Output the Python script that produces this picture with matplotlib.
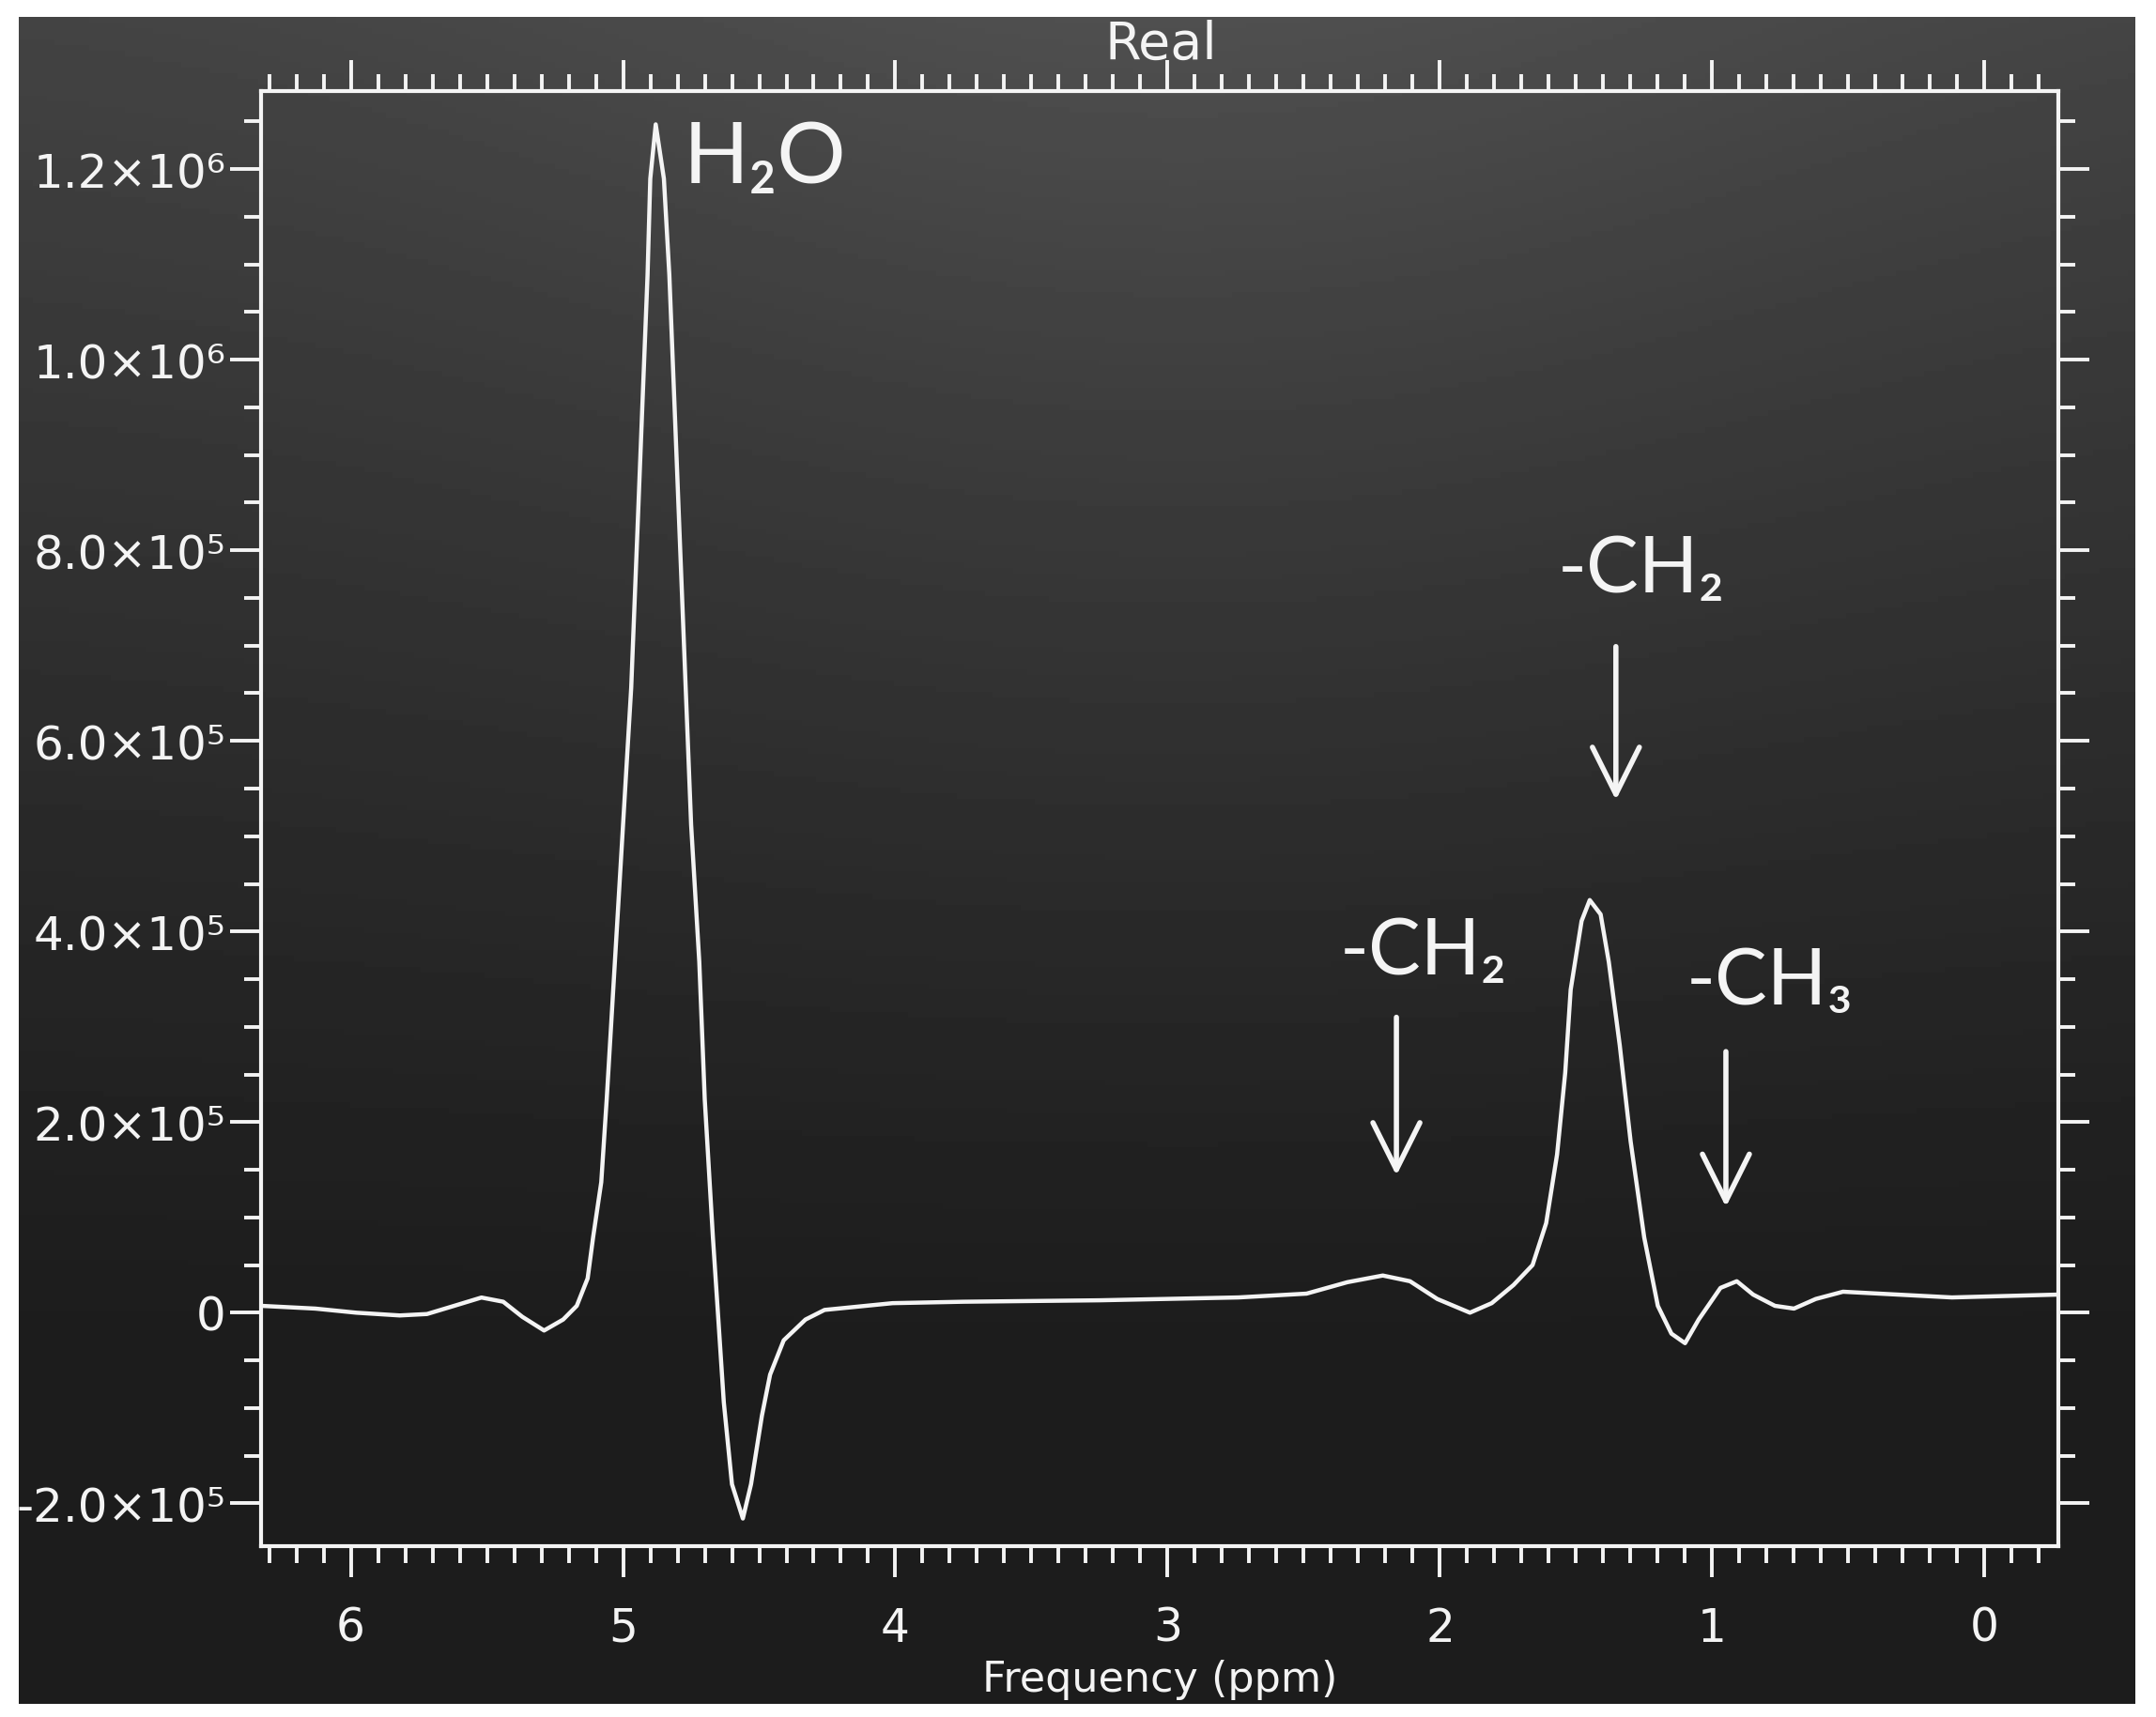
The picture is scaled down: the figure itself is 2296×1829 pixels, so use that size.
import matplotlib
matplotlib.use('Agg')
import matplotlib.pyplot as plt
import numpy as np
from matplotlib.ticker import MultipleLocator

# spectrum (chemical shift in ppm, real part)
ppm = [6.33, 6.13, 5.98, 5.82, 5.72, 5.62, 5.52, 5.44, 5.37, 5.29, 5.22, 5.17,
       5.13, 5.11, 5.08, 5.06, 5.03, 5.00, 4.97, 4.95, 4.93, 4.91, 4.90, 4.88,
       4.85, 4.83, 4.81, 4.79, 4.77, 4.75, 4.72, 4.70, 4.67, 4.65, 4.63, 4.60,
       4.56, 4.53, 4.49, 4.46, 4.41, 4.33, 4.26, 4.01, 3.75, 3.25, 2.74, 2.49,
       2.34, 2.21, 2.11, 2.01, 1.89, 1.81, 1.73, 1.66, 1.61, 1.57, 1.54, 1.52,
       1.48, 1.45, 1.41, 1.38, 1.34, 1.30, 1.25, 1.20, 1.15, 1.10, 1.05, 0.97,
       0.91, 0.85, 0.77, 0.70, 0.62, 0.52, 0.32, 0.12, -0.27]
real = [7.2e3, 4.3e3, 0, -2.9e3, -1.4e3, 7.2e3, 1.59e4, 1.15e4, -4.3e3, -1.87e4, -7.2e3, 7.2e3,
        3.6e4, 7.9e4, 1.37e5, 2.24e5, 3.68e5, 5.12e5, 6.56e5, 8.0e5, 9.45e5, 1.089e6, 1.19e6, 1.247e6,
        1.19e6, 1.089e6, 9.45e5, 8.0e5, 6.56e5, 5.12e5, 3.68e5, 2.24e5, 7.9e4, -7.2e3, -9.4e4, -1.80e5,
        -2.16e5, -1.80e5, -1.08e5, -6.5e4, -2.9e4, -7.2e3, 2.9e3, 1.0e4, 1.15e4, 1.3e4, 1.6e4, 2.0e4,
        3.2e4, 3.9e4, 3.3e4, 1.44e4, 0, 1.0e4, 2.9e4, 5.0e4, 9.4e4, 1.66e5, 2.52e5, 3.39e5,
        4.11e5, 4.33e5, 4.18e5, 3.68e5, 2.81e5, 1.80e5, 7.9e4, 7.2e3, -2.2e4, -3.2e4, -7.2e3, 2.6e4,
        3.3e4, 1.9e4, 7.2e3, 4.3e3, 1.44e4, 2.2e4, 1.9e4, 1.6e4, 1.9e4]

x_ticks = [6, 5, 4, 3, 2, 1, 0]
x_labels = ['6', '5', '4', '3', '2', '1', '0']
y_ticks = [-2e5, 0, 2e5, 4e5, 6e5, 8e5, 1.0e6, 1.2e6]
y_labels = ['-2.0×10⁵', '0', '2.0×10⁵', '4.0×10⁵', '6.0×10⁵', '8.0×10⁵', '1.0×10⁶', '1.2×10⁶']

# peak labels: text, text position, arrow tail, arrow tip
peak_names = ['-CH₂', '-CH₂', '-CH₃']
name_pos = [(1.26, 7.79e5), (2.06, 3.78e5), (0.79, 3.46e5)]
arrow_from = [(1.354, 6.99e5), (2.16, 3.10e5), (0.95, 2.74e5)]
arrow_to = [(1.354, 5.38e5), (2.16, 1.44e5), (0.95, 1.11e5)]

fg = '#f4f4f4'
label_font = ['Lato', 'DejaVu Sans']

fig = plt.figure(figsize=(22.96, 18.29), dpi=100)
fig.patch.set_facecolor('white')

# the dark photo of the scanner screen
bg = fig.add_axes([0.0087, 0.0077, 0.9817, 0.9825], zorder=0)
yy, xx = np.mgrid[0:1:300j, 0:1:300j]
shade = 0.11 + 0.20 * np.clip(1 - yy * 1.25, 0, 1) ** 1.2 * (0.75 + 0.25 * np.exp(-((xx - 0.55) / 0.35) ** 2))
bg.imshow(shade, cmap='gray', vmin=0, vmax=1, aspect='auto', extent=[0, 1, 0, 1])
bg.axis('off')

ax = fig.add_axes([0.121, 0.0995, 0.8336, 0.8475], zorder=1)
ax.set_facecolor('none')
ax.plot(ppm, real, color=fg, lw=3.2)

ax.set_xlim(6.33, -0.27)
ax.set_ylim(-2.45e5, 1.282e6)
ax.set_xticks(x_ticks)
ax.set_xticklabels(x_labels)
ax.set_yticks(y_ticks)
ax.set_yticklabels(y_labels)
ax.xaxis.set_minor_locator(MultipleLocator(0.1))
ax.yaxis.set_minor_locator(MultipleLocator(5e4))
ax.tick_params(which='both', direction='out', top=True, right=True, colors=fg, width=2.8)
ax.tick_params(which='major', length=24)
ax.tick_params(which='minor', length=13)
ax.tick_params(axis='x', which='major', labelsize=35, pad=22)
ax.tick_params(axis='y', which='major', labelsize=36, pad=3)
for lab in ax.get_xticklabels() + ax.get_yticklabels():
    lab.set_family('DejaVu Sans')
for sp in ax.spines.values():
    sp.set_color(fg)
    sp.set_linewidth(3)

ax.text(0.501, 1.032, 'Real', transform=ax.transAxes, ha='center', va='center',
        color=fg, fontsize=40, family='DejaVu Sans')
ax.text(0.5, -0.106, 'Frequency (ppm)', transform=ax.transAxes, ha='center', va='bottom',
        color=fg, fontsize=32, family='DejaVu Sans')

ax.text(4.78, 1.211e6, 'H₂O', ha='left', va='center', color=fg, fontsize=66, family=label_font)
for name, pos, a, b in zip(peak_names, name_pos, arrow_from, arrow_to):
    ax.text(pos[0], pos[1], name, ha='center', va='center', color=fg, fontsize=60, family=label_font)
    ax.annotate('', xy=b, xytext=a,
                arrowprops=dict(arrowstyle='->,head_length=0.6,head_width=0.3',
                                color=fg, lw=4, mutation_scale=60, shrinkA=0, shrinkB=0))

fig.savefig('out.png', dpi=100)
